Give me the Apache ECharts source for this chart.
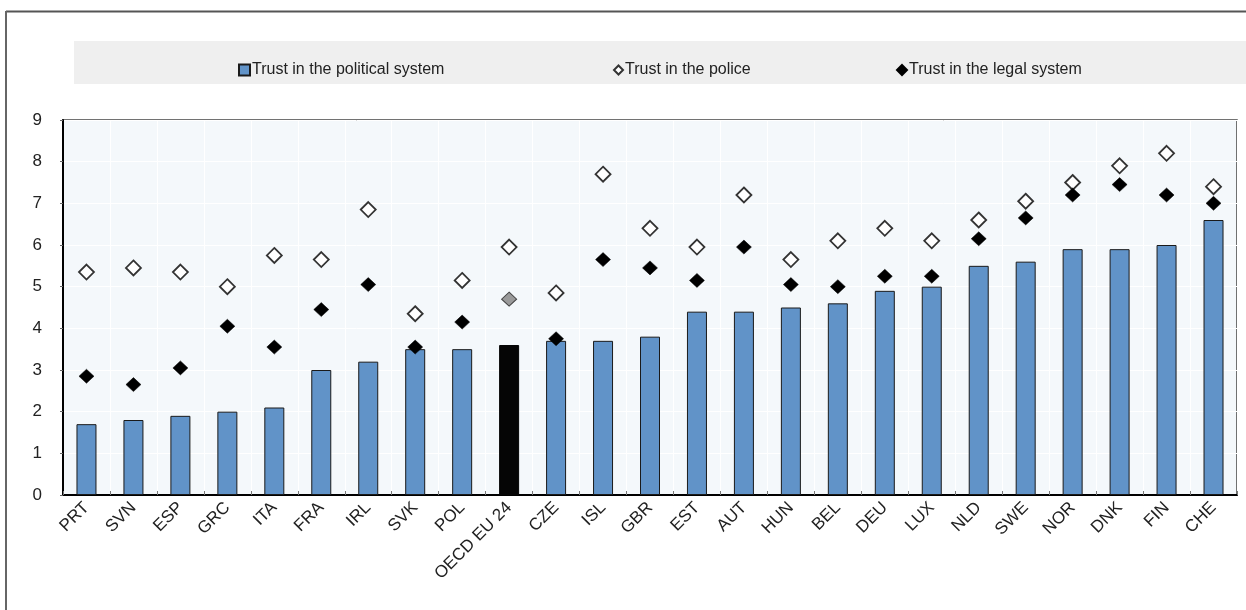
<!DOCTYPE html>
<html>
<head>
<meta charset="utf-8">
<script src="https://cdn.jsdelivr.net/npm/echarts@6/dist/echarts.min.js"></script>
<style>
html,body{margin:0;padding:0;background:#fff;}
#chart{width:1246px;height:610px;}
</style>
</head>
<body>
<div id="chart"></div>
<script>
const categories = ["PRT","SVN","ESP","GRC","ITA","FRA","IRL","SVK","POL","OECD EU 24","CZE","ISL","GBR","EST","AUT","HUN","BEL","DEU","LUX","NLD","SWE","NOR","DNK","FIN","CHE"];
const politicalSystem = [1.7,1.8,1.9,2.0,2.1,3.0,3.2,3.5,3.5,3.6,3.7,3.7,3.8,4.4,4.4,4.5,4.6,4.9,5.0,5.5,5.6,5.9,5.9,6.0,6.6];
const police = [5.35,5.45,5.35,5.0,5.75,5.65,6.85,4.35,5.15,5.95,4.85,7.7,6.4,5.95,7.2,5.65,6.1,6.4,6.1,6.6,7.05,7.5,7.9,8.2,7.4];
const legalSystem = [2.85,2.65,3.05,4.05,3.55,4.45,5.05,3.55,4.15,4.7,3.75,5.65,5.45,5.15,5.95,5.05,5.0,5.25,5.25,6.15,6.65,7.2,7.45,7.2,7.0];
const yTicks = [0,1,2,3,4,5,6,7,8,9];
const highlight = "OECD EU 24";

const FONT = '"Liberation Sans", Arial, sans-serif';
const chart = echarts.init(document.getElementById('chart'), null, {renderer:'canvas'});

const barData = politicalSystem.map((v,i)=> categories[i]===highlight ? {value:v, itemStyle:{color:'#050505', borderColor:'#050505'}} : v);
const legalData = legalSystem.map((v,i)=> categories[i]===highlight ? {value:v, itemStyle:{color:'#9a9a9a', borderColor:'#444', borderWidth:1}} : v);

const legendCommon = {
  top: 57, itemGap: 0,
  textStyle:{fontFamily:FONT, fontSize:16, color:'#222', padding:[0,0,0,-3]},
  selectedMode:false
};

chart.setOption({
  animation:false,
  backgroundColor:'#ffffff',
  graphic:[
    {type:'rect', z:-10, shape:{x:74,y:41,width:1172,height:43}, style:{fill:'#efefef'}},
    {type:'line', z:-10, shape:{x1:6,y1:11.5,x2:1246,y2:11.5}, style:{stroke:'#555',lineWidth:2}},
    {type:'line', z:-10, shape:{x1:6,y1:11,x2:6,y2:610}, style:{stroke:'#666',lineWidth:2}}
  ],
  legend:[
    Object.assign({}, legendCommon, {left:233, data:[{name:'Trust in the political system', icon:'rect'}], itemWidth:11, itemHeight:11}),
    Object.assign({}, legendCommon, {left:608, data:[{name:'Trust in the police', icon:'diamond'}], itemWidth:9, itemHeight:9}),
    Object.assign({}, legendCommon, {left:891, data:[{name:'Trust in the legal system', icon:'diamond'}], itemWidth:10, itemHeight:10})
  ],
  grid:{left:63, right:9, top:120, bottom:115, show:true, backgroundColor:'#f4f8fb', borderColor:'#444', borderWidth:1.5},
  xAxis:{
    type:'category', data:categories, boundaryGap:true,
    axisLine:{show:true, lineStyle:{color:'#000', width:2}},
    axisTick:{show:true, inside:true, length:4, interval:0, lineStyle:{color:'#777'}},
    splitLine:{show:true, interval:0, lineStyle:{color:'#ffffff', width:1}},
    axisLabel:{interval:0, rotate:45, margin:10, fontFamily:FONT, fontSize:17, color:'#222'}
  },
  yAxis:{
    type:'value', min:0, max:9, interval:1,
    axisLine:{show:true, lineStyle:{color:'#000', width:2}},
    axisTick:{show:true, length:3, lineStyle:{color:'#666'}},
    splitLine:{show:true, lineStyle:{color:'#ffffff', width:1}},
    axisLabel:{margin:21, fontFamily:FONT, fontSize:17, color:'#222',
      formatter:(v)=> yTicks.includes(v) ? String(v) : ''}
  },
  series:[
    {name:'Trust in the political system', type:'bar', data:barData, barWidth:20,
     itemStyle:{color:'#6193c8', borderColor:'#1a1a1a', borderWidth:1}},
    {name:'Trust in the police', type:'scatter', data:police, symbol:'diamond', symbolSize:[15,15],
     itemStyle:{color:'#ffffff', borderColor:'#333', borderWidth:1.8, opacity:1}, z:3},
    {name:'Trust in the legal system', type:'scatter', data:legalData, symbol:'diamond', symbolSize:[15,14],
     itemStyle:{color:'#000000', borderColor:'#000', borderWidth:0.5, opacity:1}, z:4}
  ]
});
</script>
</body>
</html>
